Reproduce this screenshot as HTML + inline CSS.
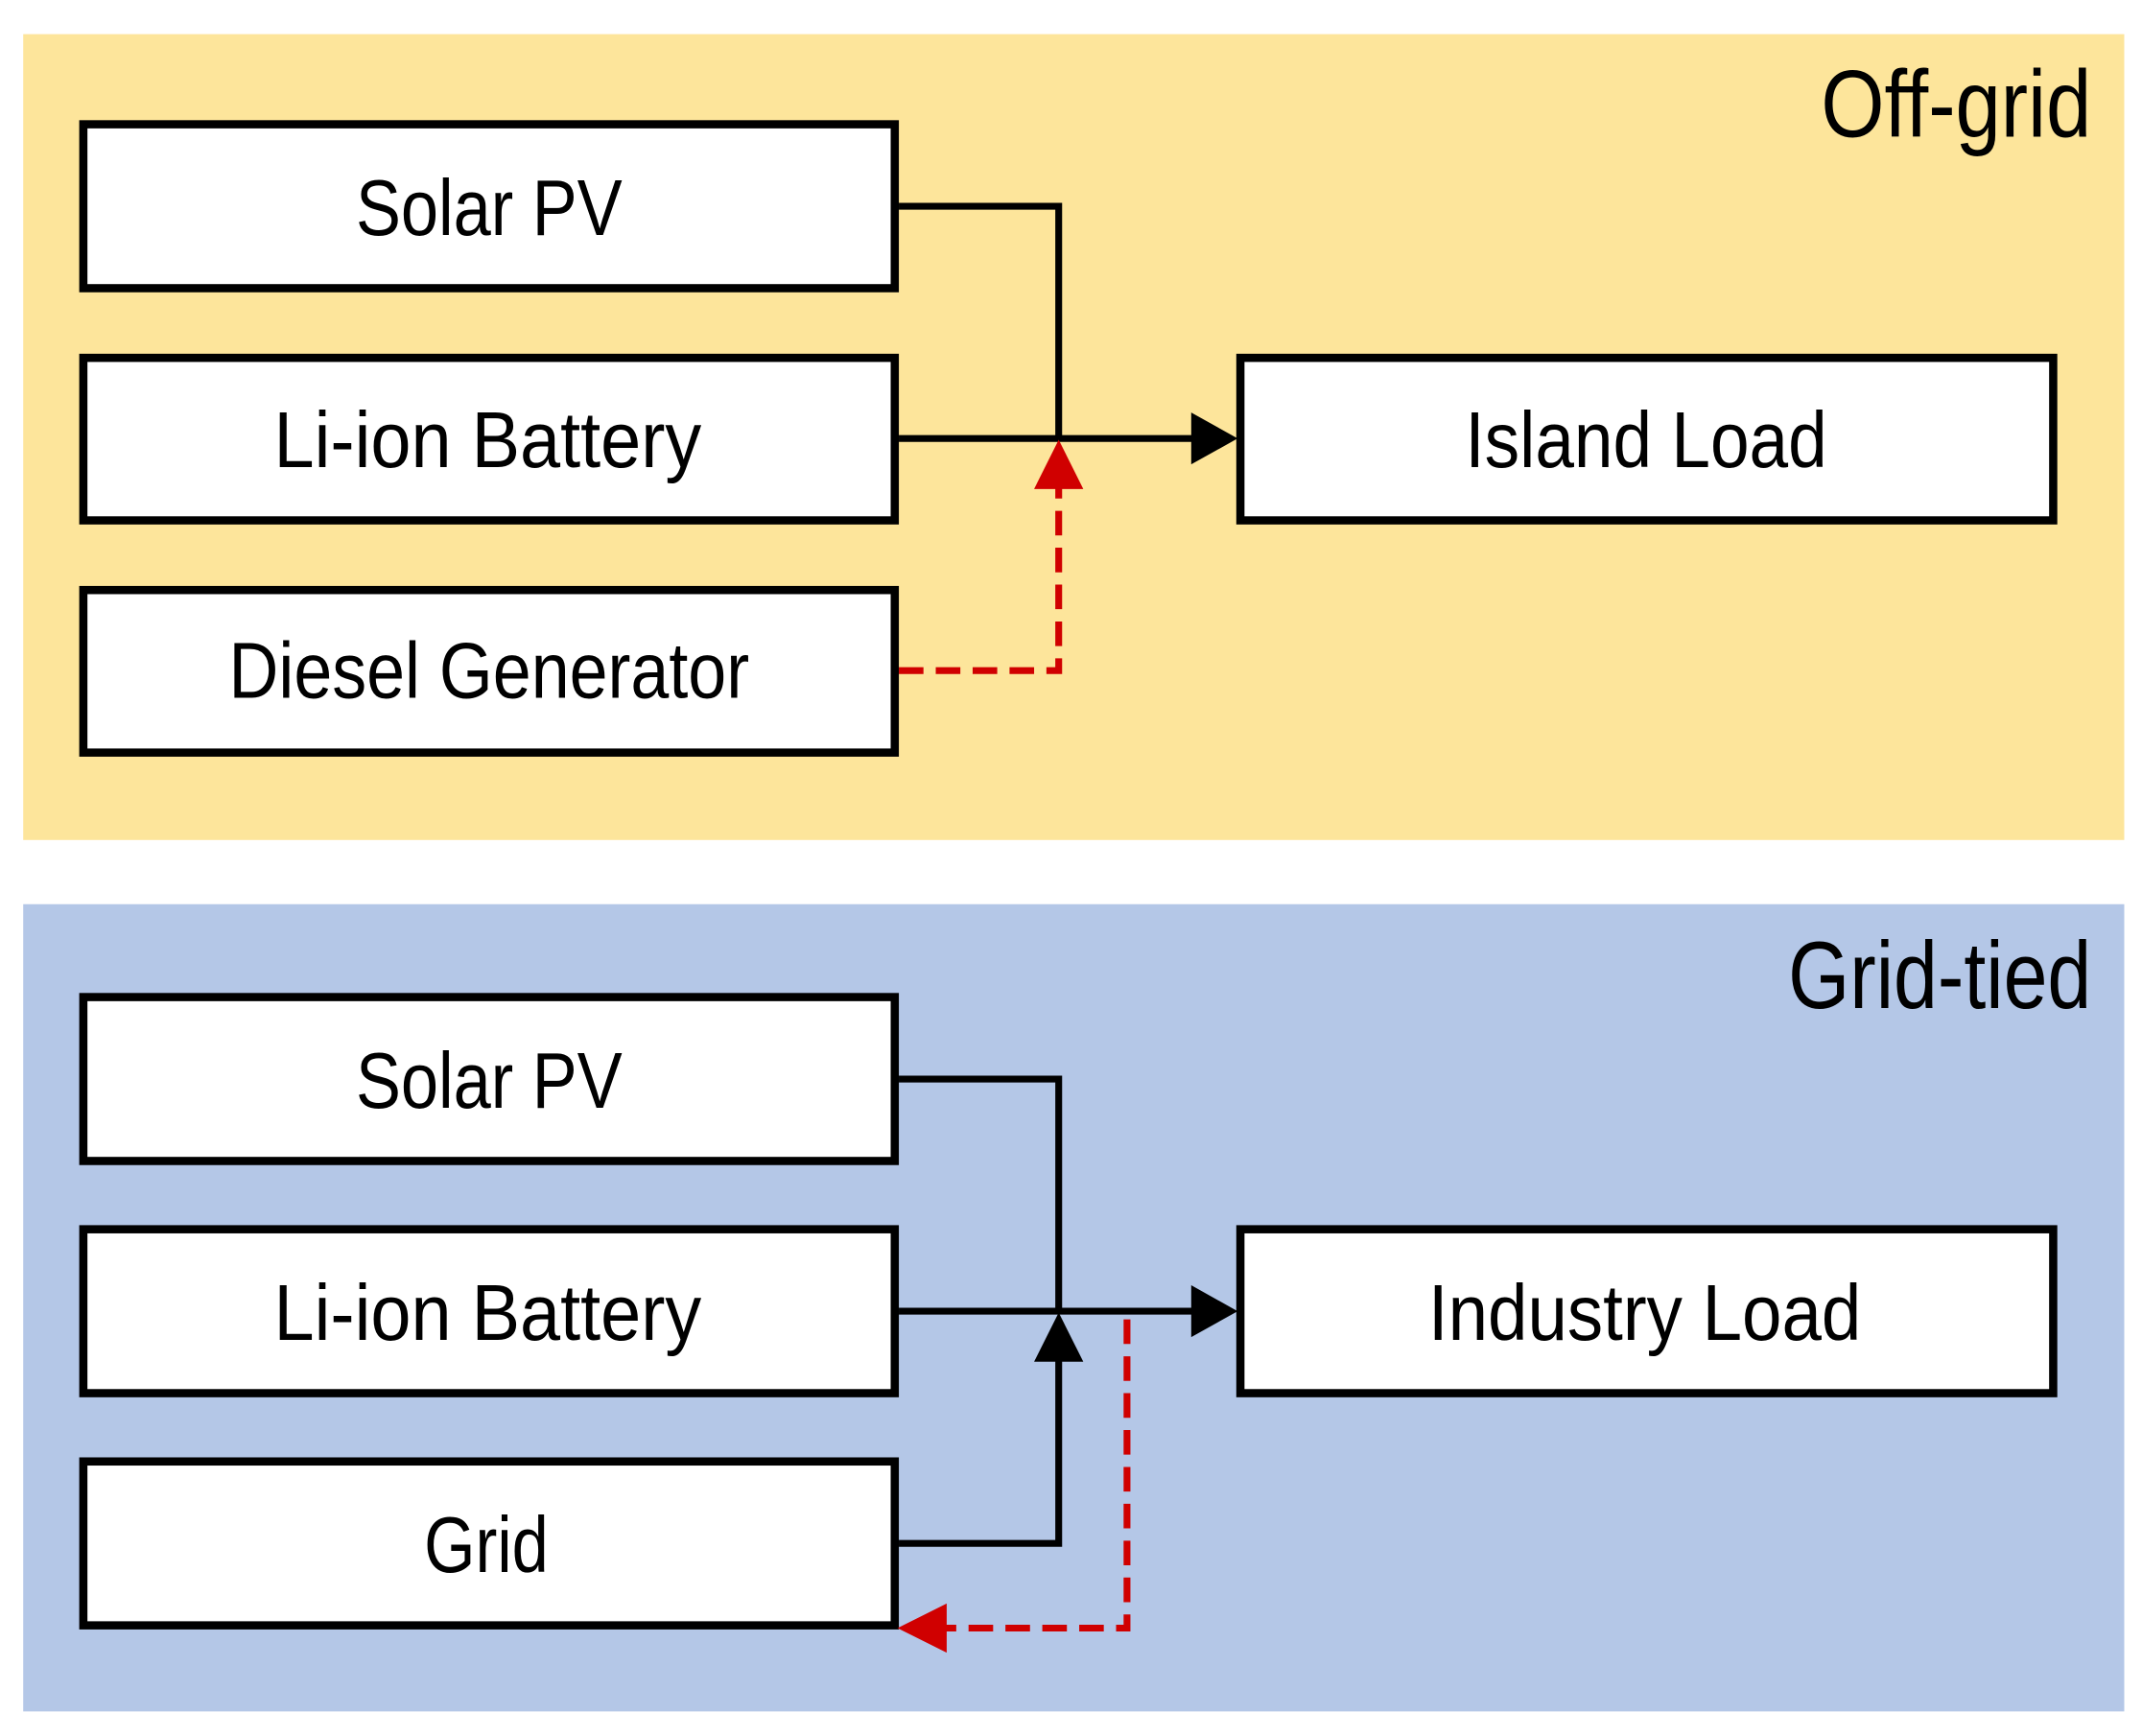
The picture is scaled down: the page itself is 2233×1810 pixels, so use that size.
<!DOCTYPE html>
<html><head><meta charset="utf-8"><style>html,body{margin:0;padding:0;background:#fff}svg{display:block}</style></head>
<body>
<svg width="2233" height="1810" viewBox="0 0 1568 1271" preserveAspectRatio="none" xmlns="http://www.w3.org/2000/svg" font-family="'Liberation Sans Narrow','Liberation Sans',sans-serif">
<rect x="0" y="0" width="1568" height="1271" fill="#fff"/>
<rect x="17" y="25" width="1538" height="590" fill="#fde59b"/>
<rect x="17" y="662" width="1538" height="591" fill="#b4c7e7"/>
<g fill="#fff" stroke="#000" stroke-width="6">
<rect x="61" y="91" width="594" height="120"/>
<rect x="61" y="262" width="594" height="119"/>
<rect x="61" y="432" width="594" height="119"/>
<rect x="908" y="262" width="595" height="119"/>
<rect x="61" y="730" width="594" height="120"/>
<rect x="61" y="900" width="594" height="120"/>
<rect x="61" y="1070" width="594" height="120"/>
<rect x="908" y="900" width="595" height="120"/>
</g>
<g fill="none" stroke="#000" stroke-width="5">
<polyline points="658,151 775,151 775,321"/>
<line x1="658" y1="321" x2="880" y2="321"/>
<polyline points="658,790 775,790 775,960"/>
<line x1="658" y1="960" x2="880" y2="960"/>
<polyline points="658,1130 775,1130 775,990"/>
</g>
<polygon points="906,321 872,302 872,340" fill="#000"/>
<polygon points="906,960 872,941 872,979" fill="#000"/>
<polygon points="775,961 757,997 793,997" fill="#000"/>
<g fill="none" stroke="#d00000" stroke-width="5" stroke-dasharray="18,9">
<polyline points="658,491 775,491 775,355"/>
<polyline points="825,966 825,1192 690,1192"/>
</g>
<polygon points="775,322 757,358 793,358" fill="#d00000"/>
<polygon points="657,1192 693,1174 693,1210" fill="#d00000"/>
<g font-size="58" fill="#000" text-anchor="middle">
<text x="358" y="172" textLength="195" lengthAdjust="spacingAndGlyphs">Solar PV</text>
<text x="357" y="342" textLength="313" lengthAdjust="spacingAndGlyphs">Li-ion Battery</text>
<text x="358" y="511" textLength="381" lengthAdjust="spacingAndGlyphs">Diesel Generator</text>
<text x="1205" y="342" textLength="265" lengthAdjust="spacingAndGlyphs">Island Load</text>
<text x="358" y="811" textLength="195" lengthAdjust="spacingAndGlyphs">Solar PV</text>
<text x="357" y="981" textLength="313" lengthAdjust="spacingAndGlyphs">Li-ion Battery</text>
<text x="356" y="1151" textLength="91" lengthAdjust="spacingAndGlyphs">Grid</text>
<text x="1204" y="981" textLength="317" lengthAdjust="spacingAndGlyphs">Industry Load</text>
</g>
<g font-size="70" fill="#000" text-anchor="end">
<text x="1531" y="100" textLength="198" lengthAdjust="spacingAndGlyphs">Off-grid</text>
<text x="1531" y="738" textLength="222" lengthAdjust="spacingAndGlyphs">Grid-tied</text>
</g>
</svg>
</body></html>
